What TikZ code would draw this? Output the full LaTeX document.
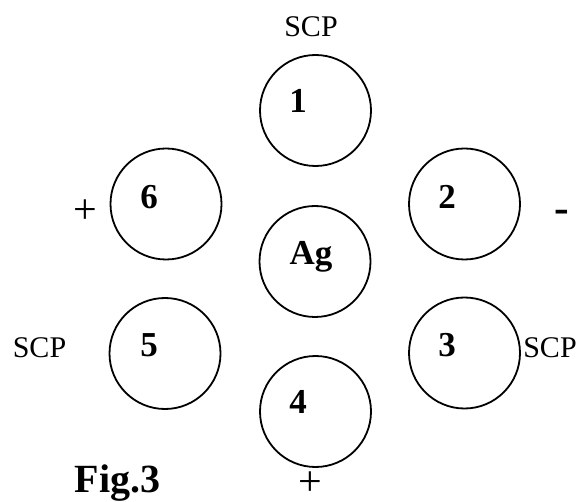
\documentclass[tikz,border=0pt]{standalone}
\usepackage{fontspec}
\setmainfont{Liberation Serif}
\begin{document}
\begin{tikzpicture}[x=1pt,y=-1pt,
  ring/.style={draw,circle,line width=1.8pt,minimum size=111pt,inner sep=0pt},
  num/.style={inner sep=0pt,font=\fontsize{35}{40}\selectfont\bfseries},
  scp/.style={inner sep=0pt,anchor=base,font=\fontsize{30}{34}\selectfont},
  sign/.style={inner sep=0pt,font=\fontsize{42}{46}\selectfont},
  figlabel/.style={inner sep=0pt,anchor=base,font=\fontsize{40}{44}\selectfont\bfseries}]
\useasboundingbox (0,0) rectangle (586,502);
\node[ring] (c1) at (315.5,110.5) {};
\node[ring] (c6) at (166,204) {};
\node[ring] (c2) at (464.5,204) {};
\node[ring] (ag) at (315,261.5) {};
\node[ring] (c5) at (165,353.5) {};
\node[ring] (c3) at (464.5,353) {};
\node[ring] (c4) at (315.5,411.5) {};
\node[num] (t1) at (298,101) {1};
\node[num] (t6) at (149,197) {6};
\node[num] (t2) at (447,197) {2};
\node[num,anchor=base] (tag) at (311,265) {Ag};
\node[num] (t5) at (149,345) {5};
\node[num] (t3) at (447,345) {3};
\node[num] (t4) at (298,402) {4};
\node[scp] (s1) at (311,37) {SCP};
\node[scp] (s5) at (39.5,358) {SCP};
\node[scp] (s3) at (550,358) {SCP};
\node[sign] (p6) at (85.5,212) {+};
\node[sign] (p4) at (310,484) {+};
\node[num,font=\fontsize{44}{48}\selectfont\bfseries] (m2) at (561.5,216) {-};
\node[figlabel] (fig) at (117.5,492) {Fig.3};
\end{tikzpicture}
\end{document}
